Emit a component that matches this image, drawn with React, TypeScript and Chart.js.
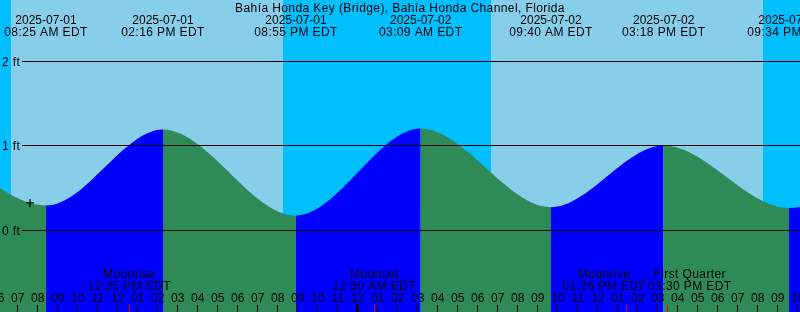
import { useEffect, useRef } from 'react';
import { Chart, registerables } from 'chart.js';

Chart.register(...registerables);

const TITLE = 'Bahía Honda Key (Bridge), Bahía Honda Channel, Florida';
const TZ = 'EDT';
const UNITS = 'ft';

// window shown (local time)
const windowStart = '2025-07-01 06:07';
const windowHours = [40];

// tide extremes (first and last lie just outside the window)
const tideTimes = [
  '2025-07-01 02:15',
  '2025-07-01 08:25',
  '2025-07-01 14:16',
  '2025-07-01 20:55',
  '2025-07-02 03:09',
  '2025-07-02 09:40',
  '2025-07-02 15:18',
  '2025-07-02 21:34',
  '2025-07-03 04:00',
];
const tideHeights = [1.2, 0.29, 1.19, 0.17, 1.2, 0.27, 1.0, 0.26, 1.15];

// sun
const sunTimes = ['2025-07-01 06:40', '2025-07-01 20:16', '2025-07-02 06:41', '2025-07-02 20:16'];
const sunEvents = ['Sunrise', 'Sunset', 'Sunrise', 'Sunset'];

// moon
const moonTimes = ['2025-07-01 12:35', '2025-07-02 00:50', '2025-07-02 13:26', '2025-07-02 15:30'];
const moonEvents = ['Moonrise', 'Moonset', 'Moonrise', 'First Quarter'];

// level ticks
const levelTicks = [0, 1, 2];
const levelRange = [-0.9704, 2.7219];

// current-time marker
const nowTimes = ['2025-07-01 07:37'];
const nowHeights = [0.32];

const COLORS = {
  night: '#00bfff',
  day: '#87ceeb',
  rising: '#0000ff',
  falling: '#2e8b57',
  text: '#000000',
  moonTick: '#ff0000',
};
const FONT = '12px "Liberation Sans", Arial, sans-serif';
const SPACING = '0.4px';

const BASE = Date.UTC(2025, 6, 1, 0, 0);
function toHours(s: string): number {
  const [d, hm] = s.split(' ');
  const [Y, M, D] = d.split('-').map(Number);
  const [h, m] = hm.split(':').map(Number);
  return (Date.UTC(Y, M - 1, D, h, m) - BASE) / 3600000;
}
function fmtTime(s: string): string {
  const [, hm] = s.split(' ');
  const [h, m] = hm.split(':').map(Number);
  const h12 = h % 12 === 0 ? 12 : h % 12;
  const ap = h < 12 ? 'AM' : 'PM';
  return `${String(h12).padStart(2, '0')}:${String(m).padStart(2, '0')} ${ap} ${TZ}`;
}
function fmtDate(s: string): string {
  return s.split(' ')[0];
}

const xMin = toHours(windowStart);
const xMax = xMin + windowHours[0];

function setSpacing(ctx: any, v: string) {
  if ('letterSpacing' in ctx) ctx.letterSpacing = v;
}

const tidePlugin = {
  id: 'tideDecor',
  beforeDatasetsDraw(chart: any) {
    const { ctx, chartArea, scales } = chart;
    const x = scales.x;
    ctx.save();
    // background: night / day
    ctx.fillStyle = COLORS.night;
    ctx.fillRect(chartArea.left, chartArea.top, chartArea.right - chartArea.left, chartArea.bottom - chartArea.top);
    let dayStart: number | null = sunEvents[0] === 'Sunset' ? xMin : null;
    for (let i = 0; i < sunTimes.length; i++) {
      const t = toHours(sunTimes[i]);
      if (sunEvents[i] === 'Sunrise') dayStart = t;
      else if (dayStart !== null) {
        const a = Math.round(x.getPixelForValue(dayStart));
        const b = Math.round(x.getPixelForValue(t));
        ctx.fillStyle = COLORS.day;
        ctx.fillRect(a, chartArea.top, b - a, chartArea.bottom - chartArea.top);
        dayStart = null;
      }
    }
    if (dayStart !== null) {
      const a = Math.round(x.getPixelForValue(dayStart));
      ctx.fillStyle = COLORS.day;
      ctx.fillRect(a, chartArea.top, chartArea.right - a, chartArea.bottom - chartArea.top);
    }
    ctx.restore();
  },
  afterDatasetsDraw(chart: any) {
    const { ctx, chartArea, scales } = chart;
    const x = scales.x;
    const y = scales.y;
    const W = chartArea.right;
    ctx.save();
    ctx.font = FONT;
    ctx.fillStyle = COLORS.text;
    setSpacing(ctx, SPACING);

    // level lines + labels
    for (const v of levelTicks) {
      const py = Math.floor(y.getPixelForValue(v));
      ctx.fillStyle = COLORS.text;
      ctx.fillRect(22, py, W - 22, 1);
      ctx.textAlign = 'left';
      ctx.textBaseline = 'alphabetic';
      ctx.fillText(`${v} ${UNITS}`, 2, py + 5);
    }

    // title
    ctx.textAlign = 'center';
    ctx.textBaseline = 'alphabetic';
    ctx.fillText(TITLE, (chartArea.left + chartArea.right) / 2, 12);

    // tide event labels
    for (let i = 0; i < tideTimes.length; i++) {
      const px = x.getPixelForValue(toHours(tideTimes[i]));
      setSpacing(ctx, '0px');
      ctx.fillText(fmtDate(tideTimes[i]), px, 24);
      setSpacing(ctx, SPACING);
      ctx.fillText(fmtTime(tideTimes[i]), px, 36);
    }

    // moon event labels (pushed apart when they would overlap)
    const mPos = moonTimes.map((t) => x.getPixelForValue(toHours(t)));
    const mW = moonTimes.map((t, i) =>
      Math.max(ctx.measureText(moonEvents[i]).width, ctx.measureText(fmtTime(t)).width)
    );
    for (let i = 1; i < mPos.length; i++) {
      const need = (mW[i - 1] + mW[i]) / 2 + 2;
      const dist = mPos[i] - mPos[i - 1];
      if (dist < need) {
        const d = (need - dist) / 2;
        mPos[i - 1] -= d;
        mPos[i] += d;
      }
    }
    for (let i = 0; i < moonTimes.length; i++) {
      ctx.fillText(moonEvents[i], mPos[i], 278);
      ctx.fillText(fmtTime(moonTimes[i]), mPos[i], 290);
    }

    // hour labels and ticks
    const H = chart.height;
    setSpacing(ctx, '0px');
    for (let h = Math.floor(xMin); h <= Math.ceil(xMax); h++) {
      const px = x.getPixelForValue(h);
      const hh = ((h % 24) + 24) % 24;
      const h12 = hh % 12 === 0 ? 12 : hh % 12;
      ctx.fillStyle = COLORS.text;
      ctx.fillText(String(h12).padStart(2, '0'), px, 302);
      if (hh === 0) ctx.fillRect(Math.floor(px) - 1, H - 7, 3, 7);
      else ctx.fillRect(Math.floor(px), H - 7, 1, 7);
    }
    ctx.fillStyle = COLORS.moonTick;
    for (let i = 0; i < moonTimes.length; i++) {
      const px = x.getPixelForValue(toHours(moonTimes[i]));
      ctx.fillRect(Math.floor(px), H - 7, 1, 7);
    }
    ctx.restore();
  },
};

export default function App() {
  const ref = useRef<HTMLCanvasElement | null>(null);
  useEffect(() => {
    if (!ref.current) return;
    const chart = new Chart(ref.current, {
      type: 'line',
      data: {
        datasets: [
          {
            type: 'scatter',
            label: 'now',
            data: nowTimes.map((t, i) => ({ x: toHours(t), y: nowHeights[i] })),
            pointStyle: 'cross',
            pointRadius: 4,
            pointBorderColor: '#000000',
            pointBorderWidth: 1.2,
            showLine: false,
            order: 0,
          } as any,
          {
            label: 'tide',
            data: tideTimes.map((t, i) => ({ x: toHours(t), y: tideHeights[i] })),
            cubicInterpolationMode: 'monotone',
            fill: 'start',
            borderColor: 'rgba(0,0,0,0)',
            borderWidth: 0,
            pointRadius: 0,
            backgroundColor: COLORS.falling,
            segment: {
              backgroundColor: (c: any) => (c.p1.parsed.y > c.p0.parsed.y ? COLORS.rising : COLORS.falling),
            },
            order: 1,
          } as any,
        ],
      },
      options: {
        responsive: false,
        animation: false,
        devicePixelRatio: 1,
        layout: { padding: 0, autoPadding: false },
        plugins: { legend: { display: false }, tooltip: { enabled: false }, title: { display: false } },
        events: [],
        scales: {
          x: { type: 'linear', min: xMin, max: xMax, display: false },
          y: { type: 'linear', min: levelRange[0], max: levelRange[1], display: false },
        },
      },
      plugins: [tidePlugin],
    });
    return () => chart.destroy();
  }, []);
  return (
    <div style={{ position: 'fixed', left: 0, top: 0, width: 800, height: 312 }}>
      <canvas ref={ref} width={800} height={312} style={{ display: 'block' }} />
    </div>
  );
}
